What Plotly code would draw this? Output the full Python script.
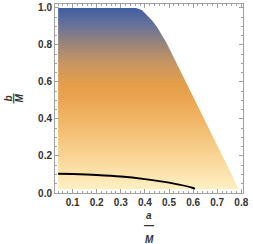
import plotly.graph_objects as go

# Allowed region boundary in the (a/M, b/M) plane
region_x = [0.04, 0.363, 0.387, 0.407, 0.428, 0.449, 0.469, 0.49, 0.79, 0.04, 0.04]
region_y = [1.0, 1.0, 0.988, 0.961, 0.934, 0.899, 0.854, 0.81, 0.02, 0.02, 1.0]

# Black boundary curve
curve_x = [0.04, 0.1, 0.2, 0.3, 0.4, 0.5, 0.6, 0.607]
curve_y = [0.104, 0.102, 0.097, 0.089, 0.075, 0.056, 0.027, 0.022]

# Vertical colour gradient (bottom -> top)
grad_pos = [0.0, 0.1, 0.2, 0.3, 0.4, 0.5, 0.58, 0.7, 0.8, 0.9, 1.0]
grad_col = ['#FEF0C4', '#FBE1A9', '#F8D290', '#F4C279', '#F0B363', '#EBA552',
            '#E49E48', '#C69563', '#9A8578', '#6A739A', '#3E5E9F']

x_ticks = [0.1, 0.2, 0.3, 0.4, 0.5, 0.6, 0.7, 0.8]
y_ticks = [0.0, 0.2, 0.4, 0.6, 0.8, 1.0]

fig = go.Figure()
fig.add_trace(go.Scatter(
    x=region_x, y=region_y, mode='lines', line=dict(width=0),
    fill='toself',
    fillgradient=dict(type='vertical',
                      colorscale=[[p, c] for p, c in zip(grad_pos, grad_col)]),
    hoverinfo='skip', showlegend=False))
fig.add_trace(go.Scatter(
    x=curve_x, y=curve_y, mode='lines', line=dict(color='black', width=2, shape='spline'),
    showlegend=False))

tickfont = dict(family='Liberation Sans', size=10, color='#333333', weight='bold')
axis_common = dict(showgrid=False, zeroline=False, showline=True, linecolor='#A0A0A0',
                   linewidth=1, mirror='ticks', ticks='inside', ticklen=4,
                   tickcolor='#A0A0A0', tickfont=tickfont)
fig.update_xaxes(range=[0.027, 0.807], tickvals=x_ticks,
                 ticktext=[f'{v:.1f}' for v in x_ticks],
                 minor=dict(dtick=0.02, ticks='inside', ticklen=2, tickcolor='#A0A0A0'),
                 **axis_common)
fig.update_yaxes(range=[0.0, 1.021], tickvals=y_ticks,
                 ticktext=[f'{v:.1f}' for v in y_ticks],
                 minor=dict(dtick=0.05, ticks='inside', ticklen=2, tickcolor='#A0A0A0'),
                 **axis_common)

lab = dict(family='Liberation Sans', size=10, color='#333333', weight='bold')
ann = []
# x label: a / M
for txt, yy in [('<i>a</i>', -22), ('—', -32), ('<i>M</i>', -46)]:
    ann.append(dict(text=txt, x=0.5, xref='paper', y=0, yref='paper', yshift=yy,
                    showarrow=False, font=lab, xanchor='center', yanchor='middle'))
# y label: b / M rotated
for txt, xx in [('<i>b</i>', -47), ('—', -42), ('<i>M</i>', -36)]:
    ann.append(dict(text=txt, x=0, xref='paper', xshift=xx, y=0.5, yref='paper',
                    showarrow=False, font=lab, textangle=-90,
                    xanchor='center', yanchor='middle'))
fig.update_layout(width=253, height=244, margin=dict(l=55, r=10, t=2, b=51),
                  plot_bgcolor='white', paper_bgcolor='white', annotations=ann)
fig.write_html('out.html', config={'displayModeBar': False},
               post_script="document.body.style.margin='0px';")
